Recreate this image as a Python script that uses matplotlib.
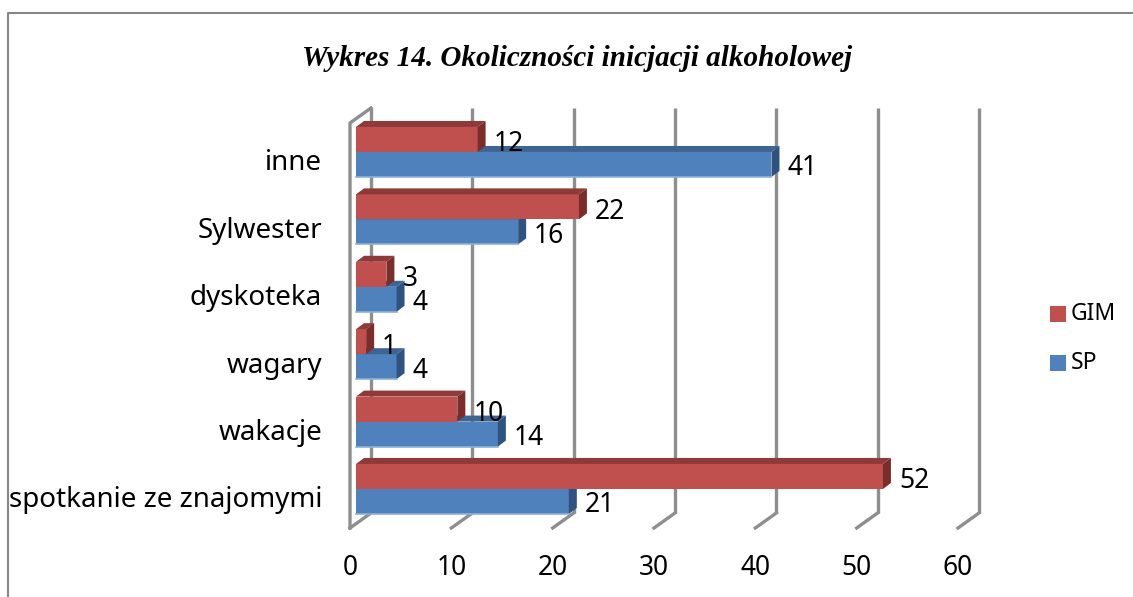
import matplotlib
matplotlib.use("Agg")
import numpy as np
import matplotlib.pyplot as plt
from matplotlib.lines import Line2D
from matplotlib.patches import Polygon, Rectangle
from matplotlib.transforms import ScaledTranslation

# Data
categories = ["spotkanie ze znajomymi", "wakacje", "wagary", "dyskoteka", "Sylwester", "inne"]
gim = [52, 10, 1, 3, 22, 12]
sp = [21, 14, 4, 4, 16, 41]
xticks = [0, 10, 20, 30, 40, 50, 60]

W, H = 1133, 597
FONT = "Noto Sans"
GRID = "#8E8E8E"
RED = ("#C0504D", "#8F3A38", "#7A2E2C")
BLUE = ("#4F81BD", "#3D6594", "#2F5380")

fig = plt.figure(figsize=(W / 100, H / 100), dpi=100)
# Plot area in pixels: x 350-958, y 123-528
ax = fig.add_axes([350 / W, 1 - 528 / H, 608 / W, 405 / H])
ax.set_xlim(0, 60)
ax.set_ylim(-0.579, 5.43)
for s in ax.spines.values():
    s.set_visible(False)

px_x = 60 / 608          # data units per pixel, x
px_y = 6.009 / 405       # data units per pixel, y
wall_dx, wall_dy = 21 * px_x, 15 * px_y
bar_off = 6 * px_x
depth_x, depth_y = 8 * px_x, 6 * px_y
bar_h = 25 * px_y
y0, y1 = ax.get_ylim()

# Back wall gridlines with the floor ticks
for t in xticks:
    ax.plot([t + wall_dx, t + wall_dx], [y0 + wall_dy, y1 + wall_dy], color=GRID, lw=2.4,
            clip_on=False, zorder=1, solid_capstyle="butt")
    ax.plot([t, t + wall_dx], [y0, y0 + wall_dy], color=GRID, lw=2.4, clip_on=False, zorder=1)
# Left wall
ax.plot([0, 0, wall_dx], [y0, y1, y1 + wall_dy], color=GRID, lw=2.4, clip_on=False, zorder=1)


def bar3d(y, val, cols, z):
    x0 = bar_off
    x1 = bar_off + val
    ax.barh(y, val, left=x0, height=bar_h, color=cols[0], zorder=z)
    top = y + bar_h / 2
    bot = y - bar_h / 2
    ax.add_patch(Polygon([(x0, top), (x1, top), (x1 + depth_x, top + depth_y), (x0 + depth_x, top + depth_y)],
                         facecolor=cols[1], edgecolor="none", clip_on=False, zorder=z))
    ax.add_patch(Polygon([(x1, bot), (x1, top), (x1 + depth_x, top + depth_y), (x1 + depth_x, bot + depth_y)],
                         facecolor=cols[2], edgecolor="none", clip_on=False, zorder=z))


ypos = np.arange(len(categories))
for i in range(len(categories)):
    y_sp = ypos[i] - bar_h / 2
    y_gim = ypos[i] + bar_h / 2
    bar3d(y_sp, sp[i], BLUE, 3)
    ax.plot([bar_off, bar_off + sp[i]], [y_sp - bar_h / 2] * 2, color="#8DB0DC", lw=1.2,
            zorder=3, clip_on=False)
    bar3d(y_gim, gim[i], RED, 4)
    ax.annotate(str(gim[i]), (bar_off + gim[i], y_gim), xytext=(16, -5), textcoords="offset pixels",
                va="center", ha="left", fontsize=19, family=FONT, color="black", zorder=6)
    ax.annotate(str(sp[i]), (bar_off + sp[i], y_sp), xytext=(16, -4), textcoords="offset pixels",
                va="center", ha="left", fontsize=19, family=FONT, color="black", zorder=6)

# Axis labels
ax.set_xticks(xticks)
ax.set_xticklabels([str(t) for t in xticks], fontsize=19, family=FONT)
ax.tick_params(axis="x", length=0, pad=19)
ax.set_yticks(ypos)
ax.set_yticklabels(categories, fontsize=20, family=FONT)
ax.tick_params(axis="y", length=0, pad=20)
for lbl in ax.get_yticklabels():
    lbl.set_transform(lbl.get_transform() + ScaledTranslation(0, -8 / 100, fig.dpi_scale_trans))

# Title
fig.text(577 / W, 1 - 58 / H, "Wykres 14. Okoliczności inicjacji alkoholowej", ha="center", va="center",
         family="Liberation Serif", style="italic", weight="bold", fontsize=21)

# Legend drawn by hand to sit at the reference position
for name, col, yp in [("GIM", RED[0], 314), ("SP", BLUE[0], 363)]:
    fig.add_artist(Rectangle((1050 / W, 1 - (yp + 8) / H), 16 / W, 16 / H, transform=fig.transFigure,
                             facecolor=col, edgecolor="none"))
    fig.text(1071 / W, 1 - yp / H, name, ha="left", va="center", family=FONT, fontsize=16.5)

# Outer frame (top and left only visible)
fig.add_artist(Line2D([8 / W, 8 / W, 1], [0, 1 - 13 / H, 1 - 13 / H], color="#868686", lw=1.5,
                      transform=fig.transFigure))

fig.savefig("out.png", dpi=100)
